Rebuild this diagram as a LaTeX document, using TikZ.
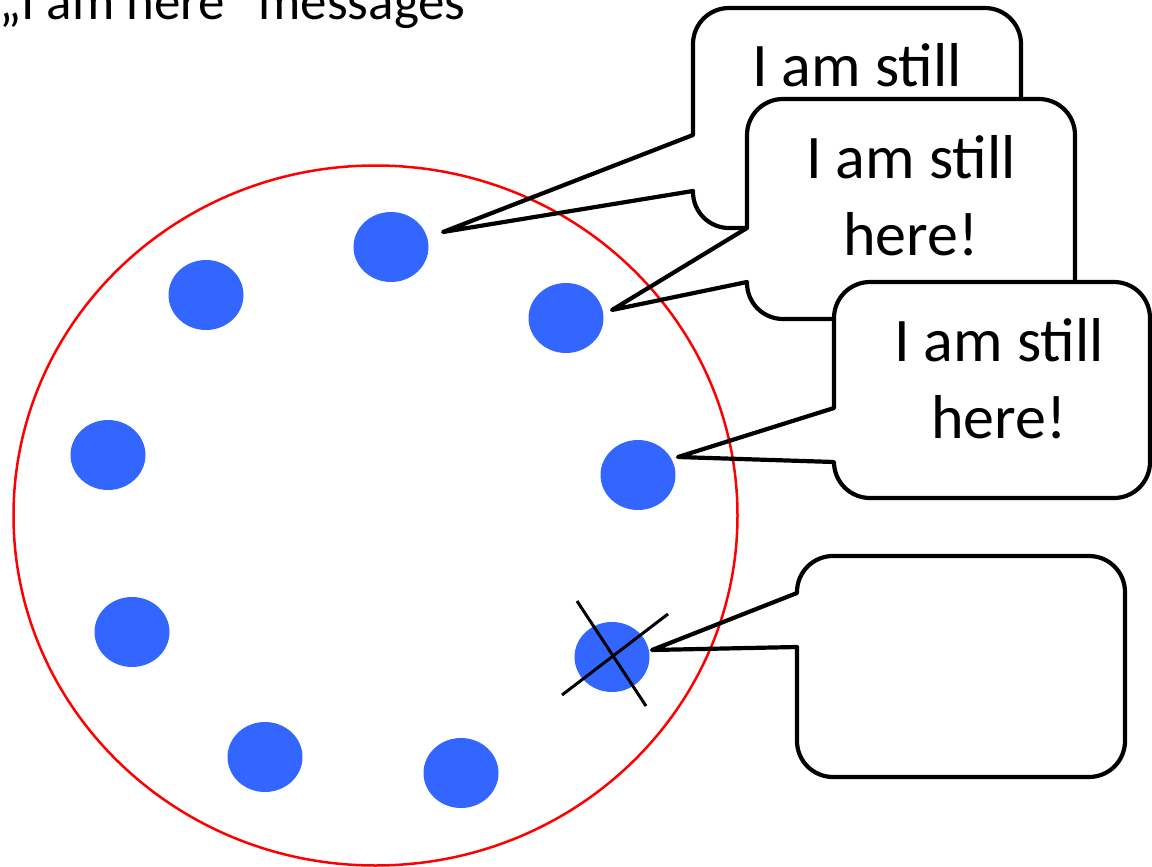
\documentclass[tikz,border=0pt]{standalone}
\usepackage{fontspec}
\setmainfont{Carlito}
\usetikzlibrary{shapes.geometric,calc}
\definecolor{dotblue}{HTML}{3366FF}

% Rounded speech bubble with its wedge on the left side.
% #1 left, #2 top, #3 right, #4 bottom, #5/#6 wedge base (y), #7 tip coordinate
\newcommand\speechbubble[7]{%
  \fill[white,rounded corners=36] (#1,#2) rectangle (#3,#4);
  \draw[bubble] (#1,#5) -- (#1,#2+36)
    arc[start angle=180,end angle=270,radius=36] -- (#3-36,#2)
    arc[start angle=270,end angle=360,radius=36] -- (#3,#4-36)
    arc[start angle=0,end angle=90,radius=36] -- (#1+36,#4)
    arc[start angle=90,end angle=180,radius=36] -- (#1,#6)
    -- (#7) -- cycle;
}

\begin{document}
\begin{tikzpicture}[x=1pt,y=-1pt,
  dot/.style={ellipse,fill=dotblue,draw=none,minimum width=75,minimum height=70,inner sep=0},
  bubble/.style={draw=black,line width=4.2,line join=round},
  saying/.style={inner sep=0,anchor=base,font=\fontsize{62}{77}\selectfont},
  title/.style={inner sep=0,anchor=base west,font=\fontsize{53}{63}\selectfont},
  cross/.style={draw=black,line width=3}]
\useasboundingbox (0,0) rectangle (1152,867);

% heading
\node[title] (head) at (-1,20) {„I am here“ messages};

% the group of processes
\draw[red,line width=2.5] (375.5,515.5) ellipse [x radius=362, y radius=350];

\node[dot] (d1) at (391,247) {};
\node[dot] (d2) at (206,295) {};
\node[dot] (d3) at (566,318) {};
\node[dot] (d4) at (108,455) {};
\node[dot] (d5) at (638,475) {};
\node[dot] (d6) at (132,632) {};
\node[dot] (d7) at (612,657) {};
\node[dot] (d8) at (265,757) {};
\node[dot] (d9) at (461,773) {};

% failed process
\coordinate (x1a) at ($(d7)+(-35,-56)$);
\coordinate (x1b) at ($(d7)+(34,49)$);
\coordinate (x2a) at ($(d7)+(-50,38)$);
\coordinate (x2b) at ($(d7)+(56,-43)$);
\draw[cross] (x1a) -- (x1b);
\draw[cross] (x2a) -- (x2b);

% wedge tips of the bubbles
\coordinate (tipA) at ($(d1)+(52,-15)$);
\coordinate (tipB) at ($(d3)+(46,-8)$);
\coordinate (tipC) at ($(d5)+(40,-18)$);
\coordinate (tipD) at ($(d7)+(40,-7)$);

% heartbeat bubbles
\speechbubble{693}{8}{1021}{228}{135}{191}{tipA}
\node[saying] (sA1) at (857,87) {I am still};
\node[saying] (sA2) at (857,164) {here!};

\speechbubble{747}{99}{1075}{319}{228}{282}{tipB}
\node[saying] (sB1) at (911,178) {I am still};
\node[saying] (sB2) at (911,255) {here!};

\speechbubble{834}{282}{1150}{498}{408}{462}{tipC}
\node[saying] (sC1) at (999,361) {I am still};
\node[saying] (sC2) at (999,438) {here!};

\speechbubble{797}{556}{1125}{777}{593}{647}{tipD}
\end{tikzpicture}
\end{document}
